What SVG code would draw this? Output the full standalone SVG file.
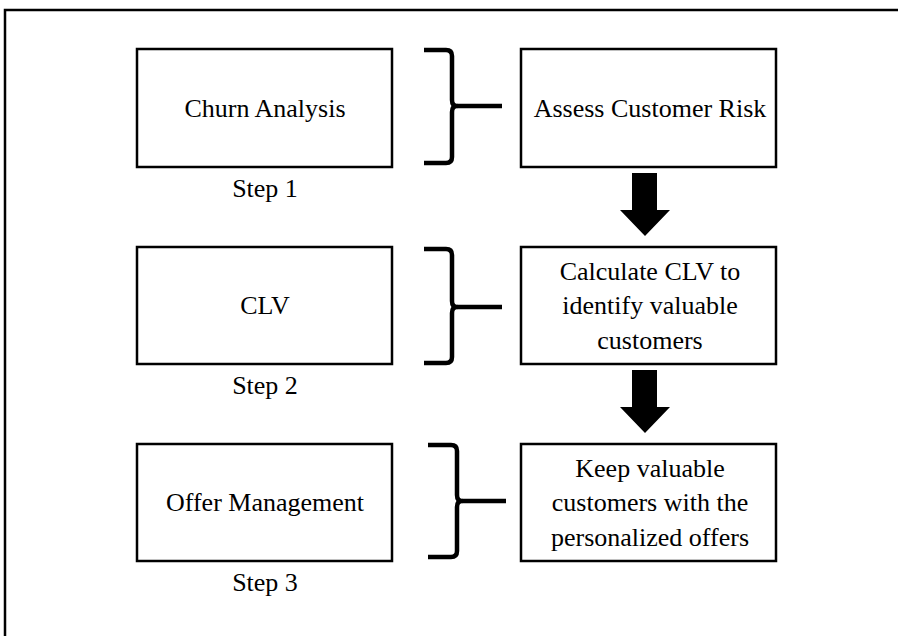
<svg xmlns="http://www.w3.org/2000/svg" width="898" height="636" viewBox="0 0 898 636">
<style>
.box{fill:#fff;stroke:#000;stroke-width:2.5}
.t{font-family:"Liberation Serif","Times New Roman",serif;font-size:26px;fill:#000;text-anchor:middle}
.brace{fill:none;stroke:#000;stroke-width:4.5;stroke-linejoin:round}
.arrow{fill:#000}
</style>
<rect x="0" y="0" width="898" height="636" fill="#fff"/>
<path d="M5,640 V10 H900" fill="none" stroke="#000" stroke-width="2.5"/>
<g id="n1"><rect class="box" x="137" y="49" width="255" height="118"/><text class="t" x="265" y="117">Churn Analysis</text></g>
<g id="s1"><text class="t" x="265" y="197">Step 1</text></g>
<g id="n2"><rect class="box" x="521" y="49" width="255" height="118"/><text class="t" x="650" y="117">Assess Customer Risk</text></g>
<g id="n3"><rect class="box" x="137" y="247" width="255" height="117"/><text class="t" x="265" y="314">CLV</text></g>
<g id="s2"><text class="t" x="265" y="394">Step 2</text></g>
<g id="n4"><rect class="box" x="521" y="247" width="255" height="117"/><text class="t" x="650" y="280">Calculate CLV to</text><text class="t" x="650" y="314">identify valuable</text><text class="t" x="650" y="349">customers</text></g>
<g id="n5"><rect class="box" x="137" y="444" width="255" height="117"/><text class="t" x="265" y="511">Offer Management</text></g>
<g id="s3"><text class="t" x="265" y="591">Step 3</text></g>
<g id="n6"><rect class="box" x="521" y="444" width="255" height="117"/><text class="t" x="650" y="477">Keep valuable</text><text class="t" x="650" y="511">customers with the</text><text class="t" x="650" y="546">personalized offers</text></g>
<g id="connectors">
<path class="brace" d="M424,50 H446 Q452,50 452,56 V100 Q452,106 457,106 Q452,106 452,112 V157 Q452,163 446,163 H424"/>
<path class="brace" d="M457,106 H502"/>
<path class="brace" d="M424,249 H446 Q452,249 452,255 V301 Q452,307 457,307 Q452,307 452,313 V357 Q452,363 446,363 H424"/>
<path class="brace" d="M457,307 H502"/>
<path class="brace" d="M428,445 H451 Q457,445 457,451 V495 Q457,501 462,501 Q457,501 457,507 V551 Q457,557 451,557 H428"/>
<path class="brace" d="M462,501 H506"/>
<polygon class="arrow" points="632,173 657,173 657,210 670,210 645,236 620,210 632,210"/>
<polygon class="arrow" points="632,370 657,370 657,407 670,407 645,433 620,407 632,407"/>
</g>
</svg>
